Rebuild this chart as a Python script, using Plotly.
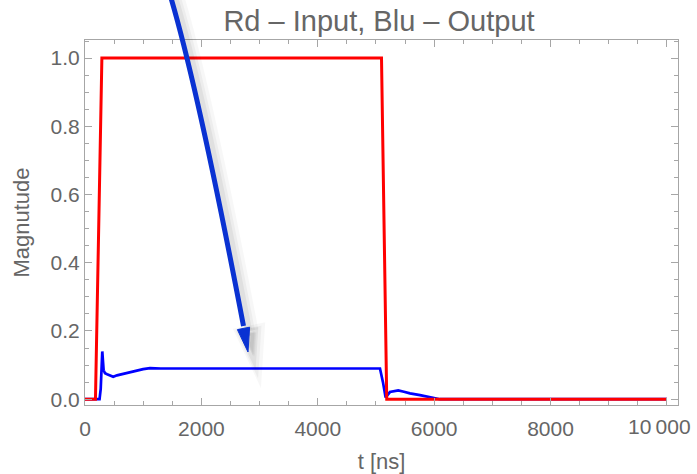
import plotly.graph_objects as go

# ---- data ----
red_t = [0, 180, 290, 5095, 5185, 10000]
red_v = [0, 0, 1, 1, 0, 0]

blue_t = [0, 250, 270, 297, 320, 344, 380, 430, 485, 550, 650, 773, 900, 1000, 1117, 1300, 2000,
          3000, 4000, 5000, 5069, 5120, 5166, 5240, 5300, 5383, 5480, 5584, 5756, 5880, 5985, 6100, 10000]
blue_v = [0, 0, 0.03, 0.14, 0.085, 0.076, 0.073, 0.07, 0.066, 0.07, 0.074, 0.08, 0.085, 0.088, 0.091, 0.09, 0.09,
          0.09, 0.09, 0.09, 0.09, 0.05, 0.005, 0.021, 0.024, 0.026, 0.022, 0.017, 0.012, 0.008, 0.004, 0.0, 0.0]

x_ticks = [0, 2000, 4000, 6000, 8000, 10000]
x_ticklabels = ["0", "2000", "4000", "6000", "8000", "10\u2009000"]
y_ticks = [0.0, 0.2, 0.4, 0.6, 0.8, 1.0]
y_ticklabels = ["0.0", "0.2", "0.4", "0.6", "0.8", "1.0"]

title_text = "Rd \u2013 Input, Blu \u2013 Output"
x_title = "t [ns]"
y_title = "Magnutude"

# ---- figure (body margin removed via post_script, so figure == page) ----
W, H = 697, 474
# plot area in page pixels: left 85, right 678, top 40, bottom 405
ml, mt = 85, 40
mr = W - 678
mb = H - 405
pw, ph = W - ml - mr, H - mt - mb

def px(x):  # page pixel -> paper
    return (x - ml) / pw

def py(y):
    return (H - mb - y) / ph

FONT = "Liberation Sans, Arial"
TXT = "#666666"
FRAME = "#a6a6a6"
TICKFONT = dict(family=FONT, size=21, color=TXT)

fig = go.Figure()
fig.add_trace(go.Scatter(x=blue_t, y=blue_v, mode="lines",
                         line=dict(color="#0000ff", width=2.7), showlegend=False))
fig.add_trace(go.Scatter(x=red_t, y=red_v, mode="lines",
                         line=dict(color="#ff0000", width=3), showlegend=False))

axis_common = dict(
    showline=True, linecolor=FRAME, linewidth=1.2, mirror="allticks",
    ticks="inside", ticklen=7, tickwidth=1.2, tickcolor=FRAME,
    showgrid=False, zeroline=False, automargin=False,
    tickfont=TICKFONT,
)

# last x label is nudged left (as in the reference) so it stays inside the page
x_axis_text = x_ticklabels[:-1] + [""]
fig.update_xaxes(range=[0, 10190], tickvals=x_ticks, ticktext=x_axis_text, ticklabelstandoff=5,
                 minor=dict(ticks="inside", ticklen=4, dtick=500, tickcolor=FRAME, tickwidth=1.2),
                 title=dict(text=x_title, font=dict(family=FONT, size=22, color=TXT), standoff=14),
                 **axis_common)
fig.update_yaxes(range=[-0.017, 1.053], tickvals=y_ticks, ticktext=y_ticklabels,
                 minor=dict(ticks="inside", ticklen=4, dtick=0.05, tickcolor=FRAME, tickwidth=1.2),
                 title=dict(text=y_title, font=dict(family=FONT, size=22, color=TXT), standoff=14),
                 **axis_common)

annotations = [dict(x=x_ticks[-1], xref="x", y=0, yref="paper", yanchor="top", xanchor="center",
                    yshift=-8, xshift=-7, text=x_ticklabels[-1], showarrow=False, font=TICKFONT)]

# ---- decorative curved arrow with soft shadow (page pixel positions) ----
P0 = (168, -12)
C = (196.5, 80.5)
P2 = (243.5, 326)
tip = (248, 352)
base_l = (237.4, 329.6)
base_r = (249.6, 327.2)
ARROW = "#0a32d2"

def curve(dx, dy):
    return (f"M {px(P0[0]+dx)},{py(P0[1]+dy)} Q {px(C[0]+dx)},{py(C[1]+dy)} "
            f"{px(P2[0]+dx)},{py(P2[1]+dy)}")

def head(dx, dy):
    pts = [tip, base_r, base_l]
    return "M " + " L ".join(f"{px(x+dx)},{py(y+dy)}" for x, y in pts) + " Z"

shapes = []
for (dx, dy, w, a) in [(7, 5, 16, 0.03), (6, 5, 11, 0.04), (5, 4, 7, 0.05)]:
    shapes.append(dict(type="path", xref="paper", yref="paper", path=curve(dx, dy),
                       line=dict(color=f"rgba(0,0,0,{a})", width=w), layer="above"))
    shapes.append(dict(type="path", xref="paper", yref="paper", path=head(dx, dy),
                       line=dict(color=f"rgba(0,0,0,{a})", width=w), fillcolor=f"rgba(0,0,0,{a})",
                       layer="above"))
shapes.append(dict(type="path", xref="paper", yref="paper", path=curve(0, 0),
                   line=dict(color=ARROW, width=5), layer="above"))
shapes.append(dict(type="path", xref="paper", yref="paper", path=head(0, 0),
                   line=dict(color=ARROW, width=1), fillcolor=ARROW, layer="above"))

fig.update_layout(
    width=W, height=H,
    margin=dict(l=ml, r=mr, t=mt, b=mb, autoexpand=False),
    paper_bgcolor="white", plot_bgcolor="white",
    title=dict(text=title_text, xref="container", x=379 / W, xanchor="center",
               yref="container", y=1 - 21 / H, yanchor="middle", automargin=False,
               font=dict(family=FONT, size=29, color=TXT)),
    shapes=shapes, annotations=annotations,
)

fig.write_html("out.html", config={"displayModeBar": False},
               post_script="document.body.style.margin='0';document.body.style.overflow='hidden';")
